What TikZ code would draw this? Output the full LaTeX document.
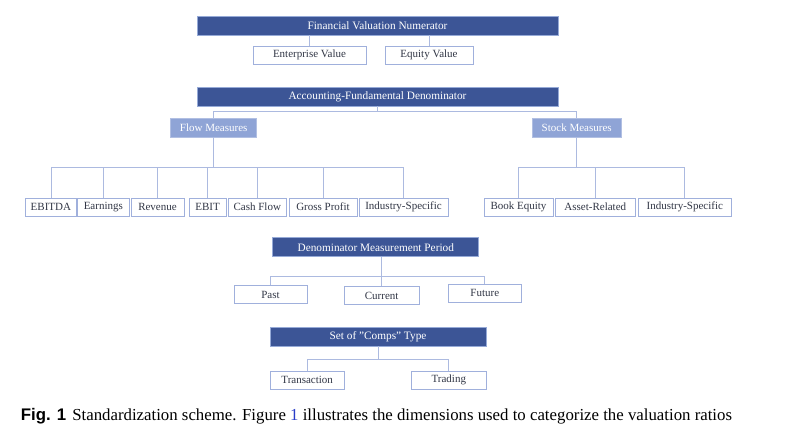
\documentclass[tikz,border=0pt]{standalone}
\usepackage{fontspec}
\setmainfont{Liberation Serif}
\newfontfamily\capsans{Liberation Sans}
\usepackage{tikz}
\usetikzlibrary{positioning,calc}
\usepackage{xcolor}
\definecolor{navy}{RGB}{60,85,150}
\definecolor{navyline}{RGB}{150,170,215}
\definecolor{paleblue}{RGB}{143,164,214}
\definecolor{boxline}{RGB}{160,176,220}
\definecolor{linkcol}{RGB}{172,186,224}
\definecolor{boxtext}{RGB}{50,55,70}
\definecolor{figblue}{RGB}{40,60,200}

\begin{document}
\begin{tikzpicture}[x=1pt,y=-1pt,
    head/.style={draw=navyline,fill=navy,text=white,line width=0.8pt,
        minimum height=19pt,inner sep=0pt,font=\fontsize{11.3}{13}\selectfont},
    sub/.style={draw=paleblue!70,fill=paleblue,text=white,line width=0.8pt,
        minimum height=19pt,inner sep=0pt,font=\fontsize{11}{13}\selectfont},
    leaf/.style={draw=boxline,fill=white,text=boxtext,line width=0.8pt,
        minimum height=18pt,inner sep=0pt,font=\fontsize{11}{13}\selectfont},
    link/.style={draw=linkcol,line width=0.8pt}]
    \useasboundingbox (0,0) rectangle (786,443);
    % numerator
    \node[head,minimum width=361pt] (fin) at (377.5,25.5) {Financial Valuation Numerator};
    \node[leaf,minimum width=113pt] (ev) at (309.5,55) {Enterprise Value};
    \node[leaf,minimum width=88pt] (eqv) at (429,55) {Equity Value};
    \draw[link] (ev.north |- fin.south) -- (ev.north);
    \draw[link] (eqv.north |- fin.south) -- (eqv.north);
    % denominator
    \node[head,minimum width=361pt] (acc) at (377.5,96.5) {Accounting-Fundamental Denominator};
    \node[sub,minimum width=86pt] (flow) at (213.7,127.8) {Flow Measures};
    \node[sub,minimum width=88.7pt] (stock) at (576.7,127.8) {Stock Measures};
    \draw[link] (acc.south) -- ++(0,5.5) -| (flow.north);
    \draw[link] (acc.south) -- ++(0,5.5) -| (stock.north);
    % flow measures
    \foreach \nm/\cx/\w/\txt in {ebitda/50.9/50.3/EBITDA, earn/103.3/51.3/Earnings,
        rev/157.5/53/Revenue, ebit/207.5/37/EBIT, cash/257.3/58.7/Cash Flow,
        gross/323/68/Gross Profit, indf/403.5/89/Industry-Specific} {
        \node[leaf,minimum width=\w pt] (\nm) at (\cx,207) {\txt};
        \draw[link] (flow.south) -- ++(0,29.5) -| (\nm.north);
    }
    % stock measures
    \foreach \nm/\cx/\w/\txt in {book/518.5/69/Book Equity, asset/595.3/80.7/Asset-Related,
        inds/684.8/93.7/Industry-Specific} {
        \node[leaf,minimum width=\w pt] (\nm) at (\cx,207) {\txt};
        \draw[link] (stock.south) -- ++(0,29.5) -| (\nm.north);
    }
    % period
    \node[head,minimum width=206pt] (den) at (375.8,247.3) {Denominator Measurement Period};
    \node[leaf,minimum width=73pt] (past) at (270.5,294.8) {Past};
    \node[leaf,minimum width=75.3pt] (cur) at (381.7,295.8) {Current};
    \node[leaf,minimum width=73.7pt] (fut) at (484.8,293.3) {Future};
    \foreach \nm in {past,cur,fut}
        \draw[link] (cur.north |- den.south) -- ++(0,19) -| (\nm.north);
    % comps
    \node[head,minimum width=216pt] (comps) at (378,336.5) {Set of ''Comps'' Type};
    \node[leaf,minimum width=74.3pt] (trans) at (307.2,380) {Transaction};
    \node[leaf,minimum width=74.3pt] (trad) at (448.8,380) {Trading};
    \foreach \nm in {trans,trad}
        \draw[link] (comps.south) -- ++(0,13) -| (\nm.north);
    % caption
    \node[anchor=base west,inner sep=0pt,font=\fontsize{16.8}{18}\selectfont] (cap) at (20.7,420)
        {{\capsans\bfseries Fig. 1}\hspace{6pt}Standardization scheme. Figure {\color{figblue}1} illustrates the dimensions used to categorize the valuation ratios};
\end{tikzpicture}
\end{document}
